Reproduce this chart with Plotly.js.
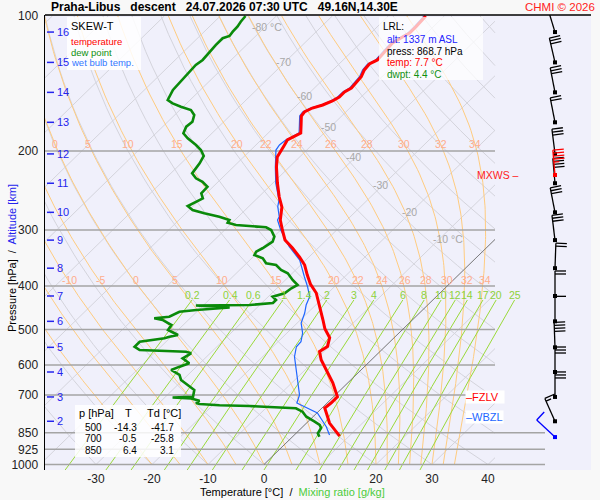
<!DOCTYPE html>
<html><head><meta charset="utf-8">
<script src="https://cdn.plot.ly/plotly-3.0.1.min.js"></script>
<style>html,body{margin:0;padding:0;background:#f8f8f8;}#chart{width:600px;height:500px;}</style>
</head><body><div id="chart"></div>
<script>
// ===== DATA =====
const tempP = [864.1, 837.7, 808.3, 782.6, 748.4, 729.4, 706.3, 657.2, 624.3, 584.0, 559.6, 545.5, 521.7, 498.2, 475.7, 444.2, 414.6, 395.8, 378.0, 359.1, 344.6, 329.0, 315.8, 300.0, 285.0, 266.6, 253.3, 235.7, 217.1, 206.2, 199.0, 193.9, 189.0, 185.2, 182.3, 175.0, 167.1, 163.7, 160.4, 157.9, 154.7, 151.6, 147.7, 144.7, 140.3, 136.6, 131.9, 127.9, 125.3, 119.1, 114.9, 111.4, 109.1, 105.6, 101.0, 100.0];
const tempT = [8.3, 6.3, 4.1, 2.6, 0.5, 0.7, 0.7, -2.7, -5.4, -9.0, -10.8, -10.3, -11.5, -14.0, -16.0, -19.0, -22.1, -24.8, -27.0, -29.3, -31.7, -34.6, -37.4, -39.7, -41.9, -44.0, -46.3, -49.2, -52.3, -54.0, -54.6, -54.9, -55.3, -54.8, -54.2, -55.6, -57.2, -57.4, -56.7, -55.4, -54.4, -53.9, -53.9, -53.4, -53.6, -53.7, -54.4, -54.6, -53.9, -54.2, -54.3, -53.6, -53.1, -53.1, -53.3, -53.3];

const wbP = [859.6, 823.7, 767.8, 748.4, 729.4, 699.8, 657.2, 615.5, 575.1, 546.3, 532.4, 509.2, 483.6, 459.4, 441.0, 422.6, 401.5, 381.4, 350.0, 326.9, 300.0, 285.0, 280.2, 266.1, 257.2, 235.7, 217.1, 199.0, 193.9, 189.0, 185.2, 182.3, 175.0, 167.1, 163.7, 160.4, 157.9, 154.7, 151.6, 147.7, 144.7, 140.3, 136.6, 131.9, 127.9, 125.3, 119.1, 114.9, 111.4, 109.1, 105.6, 101.0, 100.0];
const wbT = [6.3, 4.2, 0.1, -2.6, -5.4, -6.4, -8.9, -11.6, -14.3, -15.8, -15.9, -17.2, -19.3, -20.5, -21.7, -22.6, -24.8, -27.2, -31.1, -35.4, -40.0, -42.4, -42.7, -44.8, -45.8, -49.5, -52.5, -55.5, -55.8, -55.6, -55.1, -54.5, -55.9, -57.5, -57.7, -57.0, -55.7, -54.7, -54.2, -54.2, -53.7, -53.9, -54.0, -54.7, -54.9, -54.2, -54.5, -54.6, -53.9, -53.4, -53.4, -53.6, -53.6];

const dewP = [867.0, 852.0, 829.1, 816.4, 802.7, 782.4, 762.6, 749.4, 744.5, 740.7, 738.0, 733.1, 729.4, 720.8, 712.6, 709.0, 706.1, 682.2, 664.9, 648.0, 631.5, 615.5, 605.1, 594.7, 579.8, 564.9, 560.4, 555.5, 546.2, 532.4, 523.2, 518.8, 514.4, 501.2, 488.6, 476.2, 472.1, 468.3, 456.4, 452.4, 446.7, 442.1, 441.0, 436.5, 429.8, 422.6, 415.3, 404.7, 397.9, 387.8, 374.7, 368.4, 359.1, 356.0, 347.0, 341.1, 335.4, 329.5, 318.5, 310.5, 300.0, 295.9, 292.4, 289.0, 285.0, 280.2, 275.4, 270.7, 265.2, 261.6, 255.0, 248.5, 240.3, 234.2, 230.1, 224.3, 213.0, 205.2, 199.0, 193.9, 187.4, 182.6, 176.5, 172.1, 166.3, 162.1, 159.4, 156.6, 153.9, 146.2, 142.5, 137.7, 133.1, 128.6, 125.3, 120.1, 116.1, 112.1, 110.8, 108.4, 105.6, 103.0, 100.0];
const dewT = [4.8, 3.9, 3.5, 2.7, 1.2, -1.2, -2.8, -4.6, -9.6, -13.3, -18.8, -22.6, -23.4, -23.2, -25.1, -28.6, -25.1, -26.1, -28.2, -30.3, -31.5, -33.9, -33.0, -31.9, -34.0, -33.4, -34.6, -43.2, -44.7, -44.7, -40.9, -40.3, -39.1, -41.8, -42.1, -44.6, -46.4, -44.0, -43.1, -40.4, -34.9, -41.3, -31.8, -28.0, -28.0, -29.2, -27.7, -27.4, -26.9, -28.7, -30.8, -32.6, -34.4, -36.5, -38.0, -40.1, -40.4, -39.9, -39.3, -39.9, -41.7, -43.1, -48.9, -50.8, -51.0, -53.4, -56.7, -59.4, -61.0, -60.6, -59.7, -60.9, -61.0, -62.8, -64.6, -66.2, -66.7, -67.3, -68.9, -70.7, -73.4, -75.1, -75.8, -75.6, -76.5, -78.0, -80.4, -82.5, -84.0, -84.9, -85.0, -85.3, -85.3, -85.4, -85.1, -85.4, -85.5, -85.5, -84.7, -84.9, -85.0, -85.3, -85.5];

// wind profile (pressure hPa, direction deg, speed kt)
const windP   = [868.7, 801, 707, 622, 548, 479.5, 421, 365, 316, 274, 236, 203, 172.6, 148, 126.9, 108.6, 226.2];
const windDir = [313, 336, 0, 0, 358, 0, 0, 2, 353, 349, 355, 353, 349, 349, 347, 343, 355];
const windSpd = [10, 15, 30, 30, 40, 10, 20, 20, 30, 30, 40, 30, 20, 30, 30, 30, 45];
const windKind = ['lrl','n','n','n','n','n','n','n','n','n','n','n','n','n','n','n','max'];

// altitude scale (km) and its pressure positions
const altKm = [16, 15, 14, 13, 12, 11, 10, 9, 8, 7, 6, 5, 4, 3, 2];
const altP  = [108.6, 126.9, 148.0, 172.6, 203.0, 236.0, 274.0, 316.0, 365.0, 421.0, 479.5, 548.0, 622.0, 707.0, 801.0];

// diagram reference values
const pressLevels = [100, 200, 300, 400, 500, 600, 700, 850, 925, 1000];
const tempTicks = [-30, -20, -10, 0, 10, 20, 30, 40];
const isothermT = [-120, -110, -100, -90, -80, -70, -60, -50, -40, -30, -20, -10, 0, 10, 20, 30, 40];
const isoLabelT = [-80, -70, -60, -50, -40, -30, -20, -10];
const isoLabelP = [105.8, 126.6, 150.8, 176.8, 206.2, 238.2, 273.5, 314.2];
const dryTheta = [-40, -30, -20, -10, 0, 10, 20, 30, 40, 50, 60, 70, 80, 90, 100, 110, 120, 130, 140, 150, 160, 170, 180];
const thetaW = [-20, -15, -10, -5, 0, 5, 10, 15, 20, 22, 24, 26, 28, 30, 32, 34];
const mixRatio = [0.2, 0.4, 0.6, 1, 1.4, 2, 3, 4, 6, 8, 10, 12, 14, 17, 20, 25];

// summary table and lowest reported level
const tableP = [500, 700, 850];
const tableT = [-14.3, -0.5, 6.4];
const tableTd = [-41.7, -25.8, 3.1];
const lrlAlt = 1337, lrlPress = 868.7, lrlTemp = 7.7, lrlDwpt = 4.4;
const fzlvP = 707, wbzlP = 782, mxwsP = 226.2;

// ===== GEOMETRY =====
const FONT = '"Liberation Sans", Arial, sans-serif';
const SKEW = 82.2;                 // degC of x-shift per decade of pressure
const PXDEG = 5.6, X0PX = 264;      // px per degC, px of 0 degC at 1000 hPa
const PL = 45, PR = 591, PT = 15, PB = 470, Y100 = 16, PXDEC = 448.5;
const xOfPx = px => (px - X0PX) / PXDEG;
const fx = px => (px - PL) / (PR - PL);
const fy = py => (PB - py) / (PB - PT);
const logpOfPy = py => 2 + (py - Y100) / PXDEC;
const XMIN = xOfPx(PL), XMAX = xOfPx(PR), XDIAG = xOfPx(495), XLOW = xOfPx(545);
const skx = (T, p) => T + SKEW * Math.log10(1000 / p);

function clipRight(xs, ps, xmax, ox, op) {
  let prevIn = null;
  for (let i = 0; i < xs.length; i++) {
    const inn = xs[i] <= xmax;
    if (i > 0 && inn !== prevIn) {
      const t = (xmax - xs[i - 1]) / (xs[i] - xs[i - 1]);
      const lp = Math.log10(ps[i - 1]) + t * (Math.log10(ps[i]) - Math.log10(ps[i - 1]));
      ox.push(xmax); op.push(Math.pow(10, lp));
      if (!inn) { ox.push(null); op.push(null); }
    }
    if (inn) { ox.push(xs[i]); op.push(ps[i]); }
    prevIn = inn;
  }
  ox.push(null); op.push(null);
}
const esat = Tc => 6.112 * Math.exp(17.67 * Tc / (Tc + 243.5));
function moistLapse(p, TK) {
  const Rd = 287.04, cp = 1005.7, Lv = 2.501e6, eps = 0.622;
  const es = esat(TK - 273.15), rs = eps * es / (p - es);
  return (Rd * TK + Lv * rs) / (p * (cp + Lv * Lv * rs * eps / (Rd * TK * TK)));
}
function pseudo(thw) {
  let T = thw + 273.15, p = 1000; const dp = -5; const ps = [p], xs = [skx(thw, p)];
  while (p > 100.01) {
    const k1 = moistLapse(p, T), k2 = moistLapse(p + dp / 2, T + k1 * dp / 2);
    const k3 = moistLapse(p + dp / 2, T + k2 * dp / 2), k4 = moistLapse(p + dp, T + k3 * dp);
    T += dp * (k1 + 2 * k2 + 2 * k3 + k4) / 6; p += dp;
    ps.push(p); xs.push(skx(T - 273.15, p));
  }
  return { ps, xs };
}
function interpX(line, p) {
  for (let i = 1; i < line.ps.length; i++) {
    if (line.ps[i] <= p) {
      const t = (Math.log10(p) - Math.log10(line.ps[i - 1])) / (Math.log10(line.ps[i]) - Math.log10(line.ps[i - 1]));
      return line.xs[i - 1] + t * (line.xs[i] - line.xs[i - 1]);
    }
  }
  return null;
}
function tdFromMix(w, p) {
  const e = w * p / (622 + w), l = Math.log(e / 6.112);
  return 243.5 * l / (17.67 - l);
}

const traces = [];
const annotations = [];
const shapes = [];

// isotherms
{ const ox = [], op = [];
  isothermT.forEach(T => clipRight([skx(T, 1000), skx(T, 100)], [1000, 100], XDIAG, ox, op));
  traces.push({ x: ox, y: op, mode: 'lines', line: { color: '#d4d4dc', width: 1 }, hoverinfo: 'skip' }); }
// dry adiabats
{ const ox = [], op = [];
  dryTheta.forEach(th => {
    const xs = [], ps = [];
    for (let p = 1000; p >= 100; p -= 10) { const T = (th + 273.15) * Math.pow(p / 1000, 0.2857) - 273.15; xs.push(skx(T, p)); ps.push(p); }
    clipRight(xs, ps, XDIAG, ox, op);
  });
  traces.push({ x: ox, y: op, mode: 'lines', line: { color: '#d4d4dc', width: 1 }, hoverinfo: 'skip' }); }
// pseudo-adiabats
{ const ox = [], op = []; const pLab1 = Math.pow(10, logpOfPy(144)), pLab2 = Math.pow(10, logpOfPy(280));
  thetaW.forEach(tw => {
    const ln = pseudo(tw);
    ln.xs.forEach((x, i) => { ox.push(x); op.push(ln.ps[i]); }); ox.push(null); op.push(null);
    [pLab1, pLab2].forEach((pl, j) => {
      const xl = interpX(ln, pl);
      if (xl !== null && xl > xOfPx(49) && xl < XDIAG)
        annotations.push({ x: xl, y: Math.log10(pl), xref: 'x', yref: 'y', text: String(tw), showarrow: false, xshift: j === 0 ? 0 : 2,
          font: { size: 10.5, color: '#ffad8c', family: FONT }, xanchor: 'center', yanchor: 'middle' });
    });
  });
  traces.push({ x: ox, y: op, mode: 'lines', line: { color: '#ffcc80', width: 1 }, hoverinfo: 'skip' }); }
// mixing ratio lines
{ const ox = [], op = []; const pTop = Math.pow(10, logpOfPy(300)), pLab = Math.pow(10, logpOfPy(295));
  const pBot = Math.pow(10, logpOfPy(PB));
  mixRatio.forEach(w => {
    for (let p = pTop; p <= pBot + 0.1; p += 15) { ox.push(skx(tdFromMix(w, p), p)); op.push(p); }
    ox.push(skx(tdFromMix(w, pBot), pBot)); op.push(pBot); ox.push(null); op.push(null);
    annotations.push({ x: skx(tdFromMix(w, pLab), pLab), y: Math.log10(pLab), xref: 'x', yref: 'y', text: String(w), showarrow: false,
      xshift: -3, font: { size: 10.5, color: '#8ed23a', family: FONT }, xanchor: 'center', yanchor: 'middle' });
  });
  traces.push({ x: ox, y: op, mode: 'lines', line: { color: '#9ad93a', width: 1 }, hoverinfo: 'skip' }); }
// pressure lines
{ const ox = [], op = [];
  pressLevels.forEach(p => { if (p === 100) return; ox.push(XMIN, p >= 850 ? XLOW : XDIAG, null); op.push(p, p, null); });
  traces.push({ x: ox, y: op, mode: 'lines', line: { color: '#a4a4a4', width: 1.5 }, hoverinfo: 'skip' }); }
// 0 degC isotherm (dark)
{ const ox = [], op = []; clipRight([skx(0, 1000), skx(0, 100)], [1000, 100], XDIAG, ox, op);
  traces.push({ x: ox, y: op, mode: 'lines', line: { color: '#666', width: 0.8 }, hoverinfo: 'skip' }); }
// isotherm labels
isoLabelT.forEach((T, i) => {
  const deg = (T === -80 || T === -10);
  annotations.push({ x: skx(T, isoLabelP[i]), y: Math.log10(isoLabelP[i]), xref: 'x', yref: 'y', text: deg ? T + ' \u00b0C' : String(T),
    showarrow: false, xanchor: deg ? 'left' : 'center', xshift: T === -80 ? -15 : (deg ? -8 : -2), yanchor: 'middle', font: { size: 10.5, color: '#a8a8a8', family: FONT } });
});
// altitude ticks + labels
{ const ox = [], op = [];
  altKm.forEach((k, i) => { ox.push(xOfPx(47), xOfPx(54), null); op.push(altP[i], altP[i], null);
    annotations.push({ x: xOfPx(54.5), y: Math.log10(altP[i]), xref: 'x', yref: 'y', text: String(k), showarrow: false, xanchor: 'left', yanchor: 'middle',
      font: { size: 11, color: '#2424ee', family: FONT } }); });
  traces.push({ x: ox, y: op, mode: 'lines', line: { color: '#2424ee', width: 1.5 }, hoverinfo: 'skip' }); }

// profiles
traces.push({ x: wbT.map((t, i) => skx(t, wbP[i])), y: wbP, mode: 'lines', line: { color: '#1f66ff', width: 1.2 }, name: 'wet bulb temp.' });
traces.push({ x: tempT.map((t, i) => skx(t, tempP[i])), y: tempP, mode: 'lines', line: { color: '#ff0000', width: 3 }, name: 'temperature' });
traces.push({ x: dewT.map((t, i) => skx(t, dewP[i])), y: dewP, mode: 'lines', line: { color: '#0a8a0a', width: 2.6 }, name: 'dew point' });

// wind barbs
const XB = xOfPx(555);
function barb(p, dir, spd, ox, op) {
  const r = dir * Math.PI / 180, ux = Math.sin(r), uy = -Math.cos(r), fxv = -uy, fyv = ux;
  const L = 25, FL = 11, SP = 3;
  const pt = (dx, dy) => { ox.push(XB + dx / PXDEG); op.push(p * Math.pow(10, dy / PXDEC)); };
  pt(0, 0); pt(ux * L, uy * L); ox.push(null); op.push(null);
  let s = Math.round(spd / 5) * 5, pos = L;
  while (s >= 10) { pt(ux * pos, uy * pos); pt(ux * pos + fxv * FL, uy * pos + fyv * FL); ox.push(null); op.push(null); pos -= SP; s -= 10; }
  if (s >= 5) { if (pos === L) pos -= SP; pt(ux * pos, uy * pos); pt(ux * pos + fxv * FL / 2, uy * pos + fyv * FL / 2); ox.push(null); op.push(null); }
}
const barbColors = { n: '#000000', max: '#ff0000', lrl: '#0000ff' };
['n', 'max', 'lrl'].forEach(kind => {
  const ox = [], op = [], dx = [], dp = [];
  windP.forEach((p, i) => { if (windKind[i] !== kind) return; barb(p, windDir[i], windSpd[i], ox, op); dx.push(XB); dp.push(p); });
  traces.push({ x: ox, y: op, mode: 'lines', line: { color: barbColors[kind], width: 1.3 }, hoverinfo: 'skip' });
  traces.push({ x: dx, y: dp, mode: 'markers', marker: { symbol: 'square', size: 4, color: barbColors[kind] }, hoverinfo: 'skip' });
});

// ===== text boxes =====
const A = (x, y, text, o) => Object.assign({ xref: 'paper', yref: 'paper', x: fx(x), y: fy(y), text, showarrow: false, xanchor: 'left', yanchor: 'middle',
  borderpad: 0, font: { size: 10, color: '#000', family: FONT } }, o || {});
const box = (x0, y0, x1, y1, a) => ({ type: 'rect', xref: 'paper', yref: 'paper', x0: fx(x0), x1: fx(x1), y0: fy(y1), y1: fy(y0),
  fillcolor: 'rgba(255,255,255,' + a + ')', line: { width: 0 }, layer: 'above' });
shapes.push({ type: 'line', xref: 'paper', yref: 'paper', x0: 0, x1: 1, y0: 1, y1: 1, line: { color: '#000', width: 1.5 }, layer: 'above' });
shapes.push(box(67, 17, 141, 70, 0.85));
shapes.push(box(379, 17, 483, 80, 0.72));
shapes.push(box(75, 405, 181, 457, 0.85));

annotations.push(A(50, 7, '<b>Praha-Libus\u00a0\u00a0 descent\u00a0\u00a0 24.07.2026 07:30 UTC\u00a0\u00a0 49.16N,14.30E</b>', { font: { size: 12, color: '#000', family: FONT } }));
annotations.push(A(596, 7, 'CHMI \u00a9 2026', { xanchor: 'right', font: { size: 11.5, color: '#ff2222', family: FONT } }));
annotations.push(A(70, 26, 'SKEW-T', { font: { size: 11, color: '#000', family: FONT } }));
annotations.push(A(70, 41, 'temperature', { font: { size: 9.5, color: '#ff0000', family: FONT } }));
annotations.push(A(70, 52, 'dew point', { font: { size: 9.5, color: '#109010', family: FONT } }));
annotations.push(A(70, 63, 'wet bulb temp.', { font: { size: 9.5, color: '#3377ff', family: FONT } }));
annotations.push(A(382, 26, 'LRL:', {}));
annotations.push(A(386, 39.5, 'alt: ' + lrlAlt + ' m ASL', { font: { size: 10, color: '#2222ff', family: FONT } }));
annotations.push(A(386, 51, 'press: ' + lrlPress.toFixed(1) + ' hPa', {}));
annotations.push(A(386, 62.5, 'temp: ' + lrlTemp.toFixed(1) + ' \u00b0C', { font: { size: 10, color: '#ff0000', family: FONT } }));
annotations.push(A(386, 74, 'dwpt: ' + lrlDwpt.toFixed(1) + ' \u00b0C', { font: { size: 10, color: '#109010', family: FONT } }));
annotations.push(A(78, 413, 'p [hPa]', { font: { size: 11, color: '#000', family: FONT } }));
annotations.push(A(128, 413, 'T', { xanchor: 'center', font: { size: 11, color: '#000', family: FONT } }));
annotations.push(A(146, 413, 'Td [\u00b0C]', { font: { size: 11, color: '#000', family: FONT } }));
tableP.forEach((p, i) => {
  const y = 427 + 11.5 * i;
  annotations.push(A(103, y, String(p), { xanchor: 'right' }));
  annotations.push(A(138, y, tableT[i].toFixed(1), { xanchor: 'right' }));
  annotations.push(A(175, y, tableTd[i].toFixed(1), { xanchor: 'right' }));
});
annotations.push({ xref: 'x', yref: 'y', x: xOfPx(465), y: Math.log10(fzlvP), text: '\u2013FZLV\u00a0\u00a0', showarrow: false, xanchor: 'left', yanchor: 'middle',
  bgcolor: '#ffffff', borderpad: 0, font: { size: 11, color: '#ff0000', family: FONT } });
annotations.push({ xref: 'x', yref: 'y', x: xOfPx(465), y: Math.log10(wbzlP), text: '\u2013WBZL', showarrow: false, xanchor: 'left', yanchor: 'middle',
  bgcolor: '#ffffff', borderpad: 0, font: { size: 11, color: '#2266ff', family: FONT } });
annotations.push({ xref: 'x', yref: 'y', x: xOfPx(521), y: Math.log10(mxwsP), text: 'MXWS \u2013', showarrow: false, xanchor: 'right', yanchor: 'middle',
  font: { size: 10.5, color: '#ff2222', family: FONT } });
annotations.push(A(292, 492, 'Temperature [\u00b0C]\u00a0 /\u00a0 <span style="color:#4ccc3c">Mixing ratio [g/kg]</span>', { xanchor: 'center', font: { size: 11, color: '#000', family: FONT } }));
annotations.push(A(12, 258, 'Pressure [hPa]\u00a0 /\u00a0 <span style="color:#2424ee">Altitude [km]</span>', { xanchor: 'center', textangle: -90, font: { size: 11, color: '#000', family: FONT } }));

const layout = {
  width: 600, height: 500,
  margin: { l: PL, r: 600 - PR, t: PT, b: 500 - PB, pad: 0 },
  paper_bgcolor: '#f8f8f8', plot_bgcolor: '#f0f0fb',
  font: { family: FONT }, showlegend: false,
  xaxis: { range: [XMIN, XMAX], tickvals: tempTicks, ticktext: tempTicks.map(String), showgrid: false, zeroline: false, showline: false,
    ticks: '', tickfont: { size: 12, color: '#222', family: FONT }, fixedrange: true },
  yaxis: { type: 'log', range: [logpOfPy(PB), logpOfPy(PT)], tickvals: pressLevels, ticktext: pressLevels.map(String), showgrid: false, zeroline: false,
    showline: true, linecolor: '#000', linewidth: 1.5, ticks: '', ticklabelstandoff: 3, tickfont: { size: 12, color: '#222', family: FONT }, fixedrange: true },
  shapes, annotations
};
Plotly.newPlot('chart', traces, layout, { staticPlot: true, displayModeBar: false });
</script></body></html>
